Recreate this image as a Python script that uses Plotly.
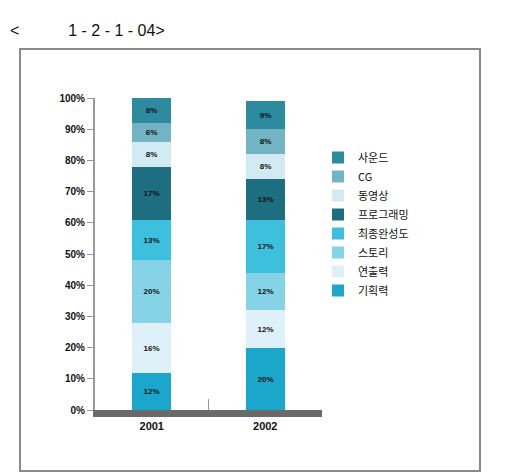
import plotly.graph_objects as go

years = ["2001", "2002"]
series_names = ["기획력", "연출력", "스토리", "최종완성도", "프로그래밍", "동영상", "CG", "사운드"]
values_2001 = [12, 16, 20, 13, 17, 8, 6, 8]
values_2002 = [20, 12, 12, 17, 13, 8, 8, 9]
colors = ["#1ba6cc", "#dff1f8", "#86d3e8", "#3cc0dd", "#1e6e82", "#d2eaf2", "#72b3c4", "#2d8ba0"]
y_ticks = [0, 10, 20, 30, 40, 50, 60, 70, 80, 90, 100]

fig = go.Figure()
for i, name in enumerate(series_names):
    vals = [values_2001[i], values_2002[i]]
    fig.add_trace(go.Bar(
        x=years, y=vals, name=name,
        marker=dict(color=colors[i], line=dict(width=0)),
        text=[f"{v}%" for v in vals],
        textposition="inside", insidetextanchor="middle",
        textangle=0,
        textfont=dict(size=8, color="#111", family="Liberation Sans", weight="bold"),
        width=0.34,
    ))

# page offset (browser body margin)
OFF = 8
W, H = 507 - OFF, 476 - OFF
L, R, T, B = 95 - OFF, 322 - OFF, 98 - OFF, 410 - OFF
pw, ph = R - L, B - T

def px(x):
    return (x - OFF - L) / pw

def py(y):
    return (B - (y - OFF)) / ph

fig.update_layout(
    width=W, height=H,
    margin=dict(l=L, r=W - R, t=T, b=H - B),
    paper_bgcolor="white", plot_bgcolor="white",
    barmode="stack",
    bargap=0,
    showlegend=True,
    legend=dict(
        x=px(318), y=py(143), xanchor="left", yanchor="top",
        traceorder="reversed",
        font=dict(size=11, family="Noto Sans CJK KR", color="#111"),
        itemwidth=30, tracegroupgap=0,
        bgcolor="rgba(0,0,0,0)",
    ),
    font=dict(family="Liberation Sans", color="#222"),
    xaxis=dict(
        range=[-0.5, 1.5],
        showline=True, linecolor="#6a6a6a", linewidth=7,
        ticks="", showgrid=False, zeroline=False,
        tickfont=dict(size=11, family="Liberation Sans", color="#111", weight="bold"),
    ),
    yaxis=dict(
        range=[0, 100],
        tickvals=y_ticks, ticktext=[f"{v}%" for v in y_ticks],
        showline=True, linecolor="#999", linewidth=2,
        ticks="outside", ticklen=6, tickcolor="#999", tickwidth=1,
        showgrid=False, zeroline=False,
        tickfont=dict(size=10, family="Liberation Sans", color="#111", weight="bold"),
    ),
    annotations=[
        dict(
            text="<" + "\u00a0" * 11 + "1 - 2 - 1 - 04>",
            xref="paper", yref="paper",
            x=px(8), y=py(30), xanchor="left", yanchor="middle",
            showarrow=False,
            font=dict(size=16, family="Liberation Sans", color="#111"),
        )
    ],
    shapes=[
        dict(type="rect", xref="paper", yref="paper",
             x0=px(20), x1=px(480), y0=py(471), y1=py(49),
             line=dict(color="#8a8a8a", width=2), layer="below"),
        dict(type="line", xref="x", yref="y",
             x0=0.5, x1=0.5, y0=0, y1=3.5,
             line=dict(color="#999", width=1)),
    ],
)

fig.write_html("out.html")
